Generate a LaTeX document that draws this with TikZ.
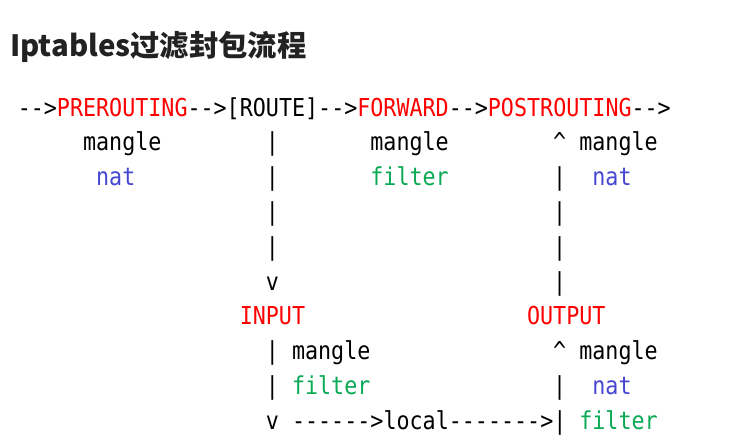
\documentclass[tikz,border=0pt]{standalone}
\usepackage{fontspec}
\setmonofont[FakeStretch=0.88]{DejaVu Sans Mono}
\newfontfamily\titlefont{Noto Sans CJK SC}
\definecolor{chainred}{RGB}{255,0,0}
\definecolor{natblue}{RGB}{70,70,210}
\definecolor{filtergreen}{RGB}{10,170,85}
\definecolor{titlegray}{RGB}{34,34,34}

\begin{document}
\begin{tikzpicture}[x=0.75pt,y=0.75pt,yscale=-1,xscale=1,
	asc/.style={anchor=base west,inner sep=0pt,font=\ttfamily\fontsize{18.5}{20}\selectfont},
	chainname/.style={asc,text=chainred},
	nattxt/.style={asc,text=natblue},
	filtertxt/.style={asc,text=filtergreen}]
	\useasboundingbox (0,0) rectangle (729,444);

	% Title
	\draw (10,56) node [anchor=base west][inner sep=0pt] [font=\titlefont\bfseries\fontsize{22}{26}\selectfont,text=titlegray] (title) {Iptables过滤封包流程};

	% Text Node
	\draw (17.5,116) node [asc] (inarrow) {-->};
	\draw (56.68,116) node [chainname] (prerouting) {PREROUTING};
	\draw (187.28,116) node [asc] (route) {-->[ROUTE]-->};
	\draw (357.06,116) node [chainname] (forward) {FORWARD};
	\draw (448.48,116) node [asc] (fwdarrow) {-->};
	\draw (487.66,116) node [chainname] (postrouting) {POSTROUTING};
	\draw (631.3,116) node [asc] (outarrow) {-->};
	% Text Node
	\draw (82.8,150.8) node [asc] (premangle) {mangle};
	\draw (265.64,150.8) node [asc] (rbar1) {|};
	\draw (370.12,150.8) node [asc] (fwdmangle) {mangle};
	\draw (552.96,150.8) node [asc] (pcaret) {\textasciicircum};
	\draw (579.08,150.8) node [asc] (postmangle) {mangle};
	% Text Node
	\draw (95.86,185.6) node [nattxt] (prenat) {nat};
	\draw (265.64,185.6) node [asc] (rbar2) {|};
	\draw (370.12,185.6) node [filtertxt] (fwdfilter) {filter};
	\draw (552.96,185.6) node [asc] (pbar1) {|};
	\draw (592.14,185.6) node [nattxt] (postnat) {nat};
	% Text Node
	\draw (265.64,220.4) node [asc] (rbar3) {|};
	\draw (552.96,220.4) node [asc] (pbar2) {|};
	\draw (265.64,255.2) node [asc] (rbar4) {|};
	\draw (552.96,255.2) node [asc] (pbar3) {|};
	\draw (265.64,290) node [asc] (rdown) {v};
	\draw (552.96,290) node [asc] (pbar4) {|};
	% Text Node
	\draw (239.52,324.8) node [chainname] (input) {INPUT};
	\draw (526.84,324.8) node [chainname] (output) {OUTPUT};
	% Text Node
	\draw (265.64,359.6) node [asc] (ibar1) {|};
	\draw (291.76,359.6) node [asc] (inmangle) {mangle};
	\draw (552.96,359.6) node [asc] (ocaret) {\textasciicircum};
	\draw (579.08,359.6) node [asc] (outmangle) {mangle};
	% Text Node
	\draw (265.64,394.4) node [asc] (ibar2) {|};
	\draw (291.76,394.4) node [filtertxt] (infilter) {filter};
	\draw (552.96,394.4) node [asc] (obar1) {|};
	\draw (592.14,394.4) node [nattxt] (outnat) {nat};
	% Text Node
	\draw (265.64,429.2) node [asc] (idown) {v};
	\draw (291.76,429.2) node [asc] (local) {------>local------->|};
	\draw (579.08,429.2) node [filtertxt] (outfilter) {filter};

\end{tikzpicture}
\end{document}
